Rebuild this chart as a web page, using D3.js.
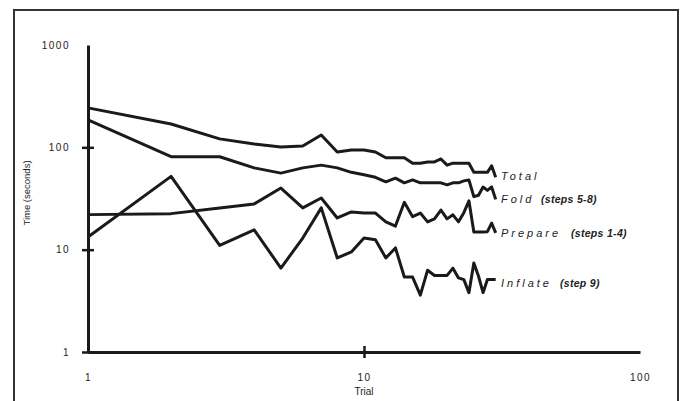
<!DOCTYPE html>
<html>
<head>
<meta charset="utf-8">
<script src="https://cdn.jsdelivr.net/npm/d3@7"></script>
<style>
  body { margin: 0; background: #fff; }
  text { font-family: "Liberation Sans", Arial, sans-serif; fill: #222; }
</style>
</head>
<body>
<div id="chart"></div>
<script>
// trial numbers and times (seconds)
var trials = [1,2,3,4,5,6,7,8,9,10,11,12,13,14,15,16,17,18,19,20,21,22,23,24,25,26,27,28,29,30];
var totalTimes   = [243,169,121,108,101,103,132,90,94,94,90,79,79,79,70,70,72,72,77,67,70,70,70,70,57,57,57,57,66,51];
var foldTimes    = [185,81,81,63,56,63,67,63,57,54,51,46,50,45,48,45,45,45,45,43,45,45,47,48,33,34,41,38,41,31];
var prepareTimes = [22,22.5,25.6,28,40,25.6,32,20.4,23.4,22.8,22.8,18.7,17,29,21,22.8,18.7,20,24.4,20,21.9,18.7,23,30,14.9,14.9,14.9,15,18.2,14.6];
var inflateTimes = [13.3,52,11,15.6,6.6,13,25.6,8.3,9.5,13,12.5,8.3,10.4,5.4,5.4,3.6,6.3,5.6,5.6,5.6,6.6,5.3,5.1,3.8,7.4,5.5,3.8,5.1,5.1,5.1];

var seriesNames = ["Total", "Fold", "Prepare", "Inflate"];
var seriesNotes = ["", "(steps 5-8)", "(steps 1-4)", "(step 9)"];
var xTicks = [1, 10, 100];
var yTicks = [1, 10, 100, 1000];

var width = 682, height = 401;

var svg = d3.select("#chart").append("svg")
    .attr("width", width)
    .attr("height", height);

svg.append("rect")
    .attr("width", width).attr("height", height)
    .attr("fill", "#fff");

// frame round the figure
svg.append("rect")
    .attr("x", 14).attr("y", 10)
    .attr("width", 664).attr("height", 400)
    .attr("fill", "none")
    .attr("stroke", "#333")
    .attr("stroke-width", 2);

var x = d3.scaleLog().domain([1, 100]).range([88, 640]);
var y = d3.scaleLog().domain([1, 1000]).range([352, 45]);

// y axis
var yAxis = svg.append("g")
    .attr("transform", "translate(88,0)")
    .call(d3.axisLeft(y).tickValues(yTicks).tickFormat(d3.format("d"))
      .tickSizeOuter(0).tickSizeInner(6).tickPadding(12));
yAxis.select(".domain").attr("stroke", "#1a1a1a").attr("stroke-width", 3);
yAxis.selectAll(".tick line")
    .attr("x1", 6).attr("stroke", "#1a1a1a").attr("stroke-width", 2.5)
    .filter(function(d) { return d === 1000; }).remove();
yAxis.selectAll(".tick text")
    .attr("font-size", 10).attr("letter-spacing", 1.5).attr("fill", "#222");

// x axis
var xAxis = svg.append("g")
    .attr("transform", "translate(0,352)")
    .call(d3.axisBottom(x).tickValues(xTicks).tickFormat(d3.format("d"))
      .tickSizeOuter(0).tickSizeInner(6).tickPadding(16));
xAxis.select(".domain").attr("stroke", "#1a1a1a").attr("stroke-width", 3);
xAxis.selectAll(".tick line")
    .attr("y1", -6).attr("stroke", "#1a1a1a").attr("stroke-width", 2.5)
    .filter(function(d) { return d !== 10; }).remove();
xAxis.selectAll(".tick text")
    .attr("font-size", 10).attr("letter-spacing", 1.5).attr("fill", "#222");

// axis titles
svg.append("text")
    .attr("transform", "translate(30,193) rotate(-90)")
    .attr("text-anchor", "middle")
    .attr("font-size", 9.5)
    .text("Time (seconds)");

svg.append("text")
    .attr("x", 364).attr("y", 395)
    .attr("text-anchor", "middle")
    .attr("font-size", 10)
    .text("Trial");

// the four series
var line = d3.line()
    .x(function(d, i) { return x(trials[i]); })
    .y(function(d) { return y(d); });

var allSeries = [totalTimes, foldTimes, prepareTimes, inflateTimes];

svg.selectAll(".series")
    .data(allSeries)
  .enter().append("path")
    .attr("class", "series")
    .attr("d", line)
    .attr("fill", "none")
    .attr("stroke", "#1a1a1a")
    .attr("stroke-width", 3)
    .attr("stroke-linejoin", "round");

// labels at the line ends
var labelY = [180, 203, 237, 287];
var noteX = [0, 541, 571, 560];

seriesNames.forEach(function(name, i) {
  var t = svg.append("text")
      .attr("x", 501).attr("y", labelY[i])
      .attr("font-size", 11)
      .attr("font-style", "italic");
  t.append("tspan")
      .attr("letter-spacing", 3)
      .text(name);
  if (seriesNotes[i]) {
    t.append("tspan")
        .attr("x", noteX[i])
        .attr("font-size", 10.5)
        .attr("font-weight", "bold")
        .attr("letter-spacing", 0.3)
        .text(seriesNotes[i]);
  }
});
</script>
</body>
</html>
